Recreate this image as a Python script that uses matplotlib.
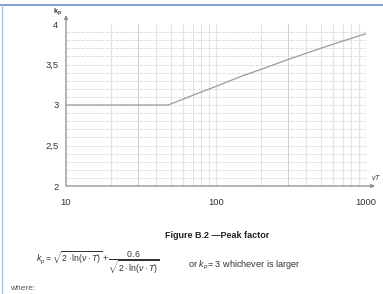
import matplotlib
matplotlib.use("Agg")
import matplotlib.pyplot as plt
from matplotlib.lines import Line2D

plt.rcParams['font.family'] = ['Liberation Sans', 'DejaVu Sans']
plt.rcParams['mathtext.fontset'] = 'custom'
plt.rcParams['mathtext.rm'] = 'Liberation Sans'
plt.rcParams['mathtext.it'] = 'Liberation Sans:italic'
plt.rcParams['mathtext.bf'] = 'Liberation Sans:bold'

# Data (peak factor kp vs nu*T)
nuT = [10, 48, 70, 100, 150, 200, 300, 500, 700, 1000]
kp = [3.0, 3.0, 3.12, 3.23, 3.36, 3.44, 3.56, 3.70, 3.79, 3.88]

x_ticks = [10, 100, 1000]
x_ticklabels = ["10", "100", "1000"]
y_ticks = [2, 2.5, 3, 3.5, 4]
y_ticklabels = ["2", "2,5", "3", "3,5", "4"]
x_grid = [20, 30, 40, 50, 60, 70, 80, 90, 100, 200, 300, 400, 500, 600, 700, 800, 900, 1000]
x_grid_strong = [30, 300]
y_grid = [round(2.1 + 0.1 * i, 1) for i in range(19)]

W, H = 383, 294
fig = plt.figure(figsize=(W / 100, H / 100), dpi=100)
fig.patch.set_facecolor('white')

L, R, T, B = 66, 366, 24, 186
ax = fig.add_axes([L / W, 1 - B / H, (R - L) / W, (B - T) / H])
ax.set_xscale('log')
ax.set_xlim(10, 1000)
ax.set_ylim(2, 4)
for s in ax.spines.values():
    s.set_visible(False)

# grid
for yv in y_grid:
    ax.axhline(yv, color='#e2e2e2', lw=0.7, ls=(0, (4, 1)), zorder=1)
for xv in x_grid:
    c = '#d2d2d2' if xv in x_grid_strong else '#e3e3e3'
    ax.axvline(xv, color=c, lw=0.8, zorder=1)

# curve
ax.plot(nuT, kp, color='#9a9a9a', lw=0.9, zorder=3)

# ticks
ax.set_xticks(x_ticks)
ax.set_xticklabels(x_ticklabels)
ax.set_yticks(y_ticks)
ax.set_yticklabels(y_ticklabels)
ax.minorticks_off()
ax.tick_params(axis='x', length=0, pad=8.5, labelsize=6.8, colors='#333333')
ax.tick_params(axis='y', length=0, pad=5.5, labelsize=6.8, colors='#333333')

# axes with arrows
ax.annotate('', xy=(0, 1.055), xytext=(0, 0), xycoords='axes fraction',
            arrowprops=dict(arrowstyle='-|>', color='#8a8a8a', lw=0.9,
                            mutation_scale=5, shrinkA=0, shrinkB=0))
ax.annotate('', xy=(1.03, 0), xytext=(0, 0), xycoords='axes fraction',
            arrowprops=dict(arrowstyle='-|>', color='#8a8a8a', lw=0.9,
                            mutation_scale=5, shrinkA=0, shrinkB=0))

# axis labels
fig.text(57 / W, 1 - 12 / H, r'$\mathbf{k_p}$', fontsize=5.2, ha='center', va='center', color='#333333')
fig.text(376 / W, 1 - 177 / H, r'$\nu T$', fontsize=5, ha='center', va='center', color='#333333')

# page decorations (blue frame lines)
fig.add_artist(Line2D([0, 1], [1 - 5 / H, 1 - 5 / H], color='#7397cd', lw=1.3))
fig.add_artist(Line2D([2 / W, 2 / W], [0, 1 - 5 / H], color='#a9c0e2', lw=1.0))

# caption and formula
fig.text(217 / W, 1 - 235 / H, 'Figure B.2 \u2014Peak factor', fontsize=6.5,
         fontweight='bold', ha='center', va='center', color='#222222')
fig.text(36 / W, 1 - 263 / H,
         r'$k_p = \sqrt{2\cdot \mathrm{ln}(\nu\cdot T)} + \dfrac{0.6}{\sqrt{2\cdot \mathrm{ln}(\nu\cdot T)}}$',
         fontsize=6.3, ha='left', va='center', color='#333333')
fig.text(188 / W, 1 - 265 / H, r'or $k_p$= 3 whichever is larger', fontsize=6.6,
         ha='left', va='center', color='#333333')
fig.text(10 / W, 1 - 289 / H, 'where:', fontsize=6, ha='left', va='center', color='#555555')

fig.savefig('out.png', dpi=100)
